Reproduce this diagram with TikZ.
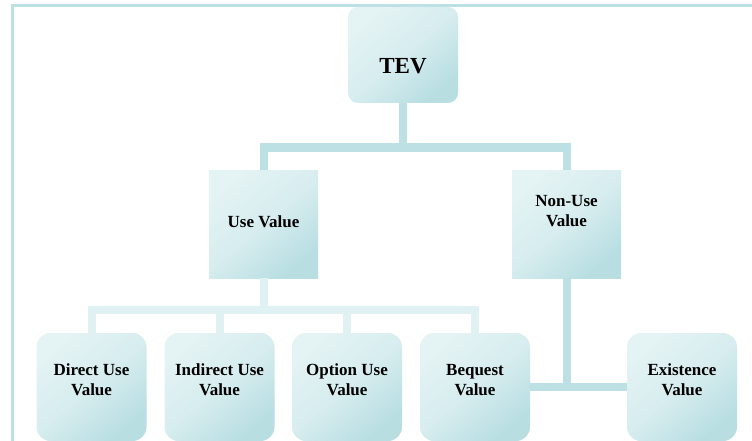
\documentclass[tikz,border=0pt]{standalone}
\usepackage{fontspec}
\setmainfont{Liberation Serif}
\definecolor{framecol}{HTML}{BCE0E4}
\definecolor{linkdark}{HTML}{BCE0E4}
\definecolor{linklight}{HTML}{DFF1F3}
\definecolor{boxlight}{HTML}{E4F3F4}
\definecolor{boxdark}{HTML}{B8DEE2}
\tikzset{
  box/.style={draw=none, inner sep=0pt, shading=axis,
    top color=boxlight, bottom color=boxdark, middle color=boxlight!70!boxdark,
    shading angle=40},
  topbox/.style={box, rounded corners=10pt, minimum width=110pt, minimum height=96pt},
  midbox/.style={box, minimum width=109pt, minimum height=108pt},
  lowbox/.style={box, rounded corners=14pt, minimum width=110pt, minimum height=108pt},
  lbl/.style={inner sep=0pt, align=center, font=\bfseries\fontsize{17}{20}\selectfont},
  biglbl/.style={inner sep=0pt, font=\bfseries\fontsize{23}{27}\selectfont},
  conn/.style={draw=linkdark, line width=8pt},
  connlight/.style={draw=linklight, line width=8pt},
}
\begin{document}
\begin{tikzpicture}[x=1pt, y=-1pt]
  \useasboundingbox (0,0) rectangle (752,441);
  \clip (0,0) rectangle (752,441);
  \fill[white] (0,0) rectangle (752,441);
  % outer frame
  \draw[framecol, line width=3pt] (12.5,441) -- (12.5,5.5) -- (752,5.5);

  % boxes
  \node[topbox] (tev) at (403,55) {};
  \node[midbox] (use) at (263.5,224) {};
  \node[midbox] (nonuse) at (566.5,224) {};
  \node[lowbox] (direct) at (91.5,387) {};
  \node[lowbox] (indirect) at (219.5,387) {};
  \node[lowbox] (option) at (347,387) {};
  \node[lowbox] (bequest) at (475,387) {};
  \node[lowbox] (existence) at (682,387) {};

  % labels
  \node[biglbl] (tevT) at (403,66) {TEV};
  \node[lbl] (useT) at (263.5,221.5) {Use Value};
  \node[lbl] (nonuseT) at (566.5,211.5) {Non-Use\\Value};
  \node[lbl] (directT) at (91.5,380) {Direct Use\\Value};
  \node[lbl] (indirectT) at (219.5,380) {Indirect Use\\Value};
  \node[lbl] (optionT) at (347,380) {Option Use\\Value};
  \node[lbl] (bequestT) at (475,380) {Bequest\\Value};
  \node[lbl] (existenceT) at (682,380) {Existence\\Value};

  % junction points of the connectors
  \coordinate (j1) at (403,147.5);
  \coordinate (j2) at (263.5,310);

  % connectors
  \draw[conn] (tev.south) -- (tev.south |- j1);
  \draw[conn] (use.north) |- (j1) -| (nonuse.north);
  \draw[connlight] (use.south) -- (j2);
  \draw[connlight] (direct.north) |- (j2) -| (bequest.north);
  \draw[connlight] (indirect.north) -- (indirect.north |- j2);
  \draw[connlight] (option.north) -- (option.north |- j2);
  \draw[conn] (nonuse.south) -- (nonuse.south |- bequest.east);
  \draw[conn] (bequest.east) -- (existence.west);
\end{tikzpicture}
\end{document}
